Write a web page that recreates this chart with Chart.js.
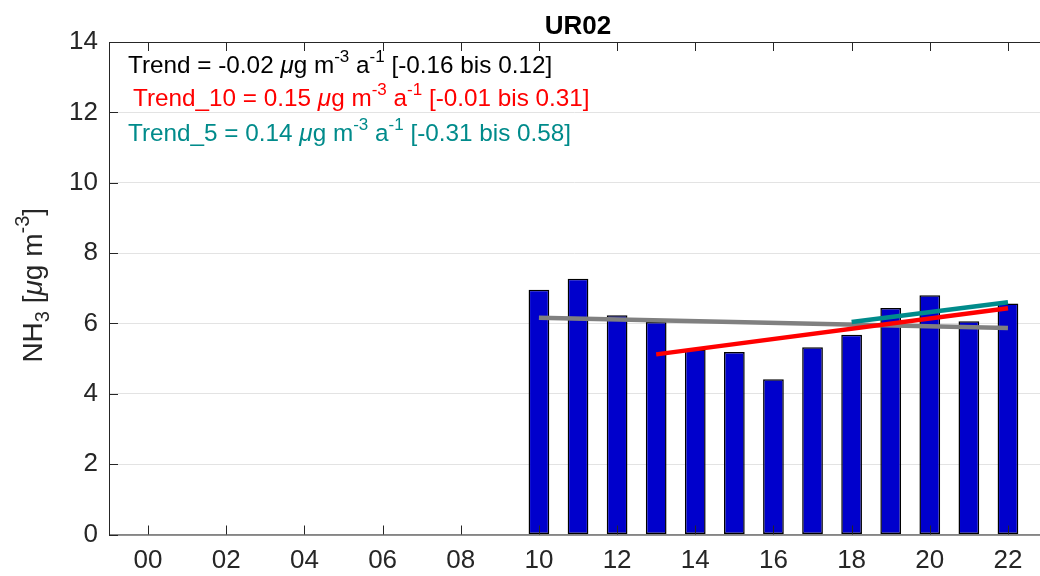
<!DOCTYPE html>
<html>
<head>
<meta charset="utf-8">
<script src="https://cdn.jsdelivr.net/npm/chart.js@4.4.0/dist/chart.umd.min.js"></script>
<style>
  body { margin: 0; background: #fff; }
  #box { width: 1040px; height: 576px; }
</style>
</head>
<body>
<div id="box"><canvas id="nh3Chart"></canvas></div>
<script>
// Jahresmittel NH3, Station UR02
const years = [10, 11, 12, 13, 14, 15, 16, 17, 18, 19, 20, 21, 22];
const nh3 = [6.96, 7.27, 6.23, 6.04, 5.26, 5.19, 4.41, 5.32, 5.68, 6.44, 6.80, 6.06, 6.57];

// Trendlinien (Anfang / Ende)
const trendYears = [10, 22];
const trendValues = [6.16, 5.87];
const trend10Years = [13, 22];
const trend10Values = [5.12, 6.43];
const trend5Years = [18, 22];
const trend5Values = [6.04, 6.60];

const xTicks = [0, 2, 4, 6, 8, 10, 12, 14, 16, 18, 20, 22];
const yTicks = [0, 2, 4, 6, 8, 10, 12, 14];

const titleText = 'UR02';
const infoLines = [
    { color: '#000000', segs: [['Trend = -0.02 '], ['\u03bc', 'i'], ['g m'], ['-3', 'sup'], [' a'], ['-1', 'sup'], [' [-0.16 bis 0.12]']] },
    { color: '#ff0000', segs: [['Trend_10 = 0.15 '], ['\u03bc', 'i'], ['g m'], ['-3', 'sup'], [' a'], ['-1', 'sup'], [' [-0.01 bis 0.31]']] },
    { color: '#008b8b', segs: [['Trend_5 = 0.14 '], ['\u03bc', 'i'], ['g m'], ['-3', 'sup'], [' a'], ['-1', 'sup'], [' [-0.31 bis 0.58]']] }
];
const yTitleSegs = [['NH'], ['3', 'sub'], [' ['], ['\u03bc', 'i'], ['g m'], ['-3', 'sup'], [']']];

const FONT = '"Liberation Sans", Arial, Helvetica, sans-serif';
const AXIS_COLOR = '#262626';

function pairs(xs, ys) {
    return xs.map((x, i) => ({ x: x, y: ys[i] }));
}

// Text mit Hoch-/Tiefstellung zeichnen
function segFont(kind, size) {
    if (kind === 'sup' || kind === 'sub') return Math.round(size * 0.7) + 'px ' + FONT;
    if (kind === 'i') return 'italic ' + size + 'px ' + FONT;
    return size + 'px ' + FONT;
}
function richWidth(ctx, segs, size) {
    let w = 0;
    segs.forEach(s => { ctx.font = segFont(s[1], size); w += ctx.measureText(s[0]).width; });
    return w;
}
function drawRich(ctx, segs, x, y, size, color) {
    ctx.fillStyle = color;
    ctx.textBaseline = 'alphabetic';
    ctx.textAlign = 'left';
    segs.forEach(s => {
        ctx.font = segFont(s[1], size);
        let dy = 0;
        if (s[1] === 'sup') dy = -size * 0.45;
        if (s[1] === 'sub') dy = size * 0.25;
        ctx.fillText(s[0], x, y + dy);
        x += ctx.measureText(s[0]).width;
    });
}

const framePlugin = {
    id: 'matlabFrame',
    afterDraw(chart) {
        const ctx = chart.ctx;
        const area = chart.chartArea;
        const xs = chart.scales.x;
        const ys = chart.scales.y;
        ctx.save();

        // Rahmen
        ctx.strokeStyle = AXIS_COLOR;
        ctx.lineWidth = 1;
        ctx.strokeRect(area.left + 0.5, area.top + 0.5, area.right + 20 - area.left, area.bottom - area.top);

        // Ticks nach innen
        ctx.beginPath();
        xTicks.forEach(v => {
            const px = Math.round(xs.getPixelForValue(v)) + 0.5;
            ctx.moveTo(px, area.bottom); ctx.lineTo(px, area.bottom - 9);
            ctx.moveTo(px, area.top); ctx.lineTo(px, area.top + 9);
        });
        yTicks.forEach(v => {
            const py = Math.round(ys.getPixelForValue(v)) + 0.5;
            ctx.moveTo(area.left, py); ctx.lineTo(area.left + 9, py);
        });
        ctx.stroke();

        // Titel
        ctx.font = 'bold 26px ' + FONT;
        ctx.fillStyle = '#000';
        ctx.textAlign = 'center';
        ctx.textBaseline = 'alphabetic';
        ctx.fillText(titleText, 578, 34);

        // Trend-Texte
        drawRich(ctx, infoLines[0].segs, area.left + 19, area.top + 31, 24.3, infoLines[0].color);
        drawRich(ctx, infoLines[1].segs, area.left + 24, area.top + 64, 24.3, infoLines[1].color);
        drawRich(ctx, infoLines[2].segs, area.left + 19, area.top + 99, 24.3, infoLines[2].color);

        // y-Achsentitel
        const w = richWidth(ctx, yTitleSegs, 28);
        ctx.translate(42, (area.top + area.bottom) / 2 - 3);
        ctx.rotate(-Math.PI / 2);
        drawRich(ctx, yTitleSegs, -w / 2, 0, 28, AXIS_COLOR);
        ctx.restore();
    }
};

const ctx = document.getElementById('nh3Chart');
new Chart(ctx, {
    data: {
        datasets: [
            {
                type: 'line',
                data: pairs(trendYears, trendValues),
                borderColor: '#808080',
                borderWidth: 4.5,
                pointRadius: 0,
                fill: false,
                order: 1
            },
            {
                type: 'line',
                data: pairs(trend10Years, trend10Values),
                borderColor: '#ff0000',
                borderWidth: 4.5,
                pointRadius: 0,
                fill: false,
                order: 0
            },
            {
                type: 'line',
                data: pairs(trend5Years, trend5Values),
                borderColor: '#008b8b',
                borderWidth: 4.5,
                pointRadius: 0,
                fill: false,
                order: 0
            },
            {
                type: 'bar',
                data: pairs(years, nh3),
                backgroundColor: '#0000cc',
                borderColor: '#000000',
                borderWidth: 1.5,
                borderSkipped: false,
                barPercentage: 0.53,
                categoryPercentage: 1,
                order: 5
            }
        ]
    },
    options: {
        responsive: true,
        maintainAspectRatio: false,
        animation: false,
        layout: { padding: { top: 42, right: 0, left: 0, bottom: 0 } },
        plugins: {
            legend: { display: false },
            tooltip: { enabled: false },
            title: { display: false }
        },
        scales: {
            x: {
                type: 'linear',
                offset: false,
                min: -1,
                max: 22.82,
                afterBuildTicks: scale => { scale.ticks = xTicks.map(v => ({ value: v })); },
                afterFit: scale => { scale.height = 41.5; },
                grid: { display: false, offset: false },
                border: { display: false },
                ticks: {
                    autoSkip: false,
                    maxRotation: 0,
                    padding: 3,
                    color: AXIS_COLOR,
                    font: { family: FONT, size: 26 },
                    callback: v => String(v).padStart(2, '0')
                }
            },
            y: {
                min: 0,
                max: 14,
                afterBuildTicks: scale => { scale.ticks = yTicks.map(v => ({ value: v })); },
                afterFit: scale => { scale.width = 109; },
                grid: { color: '#e3e3e3', drawTicks: false },
                border: { display: false },
                ticks: {
                    padding: 11,
                    color: AXIS_COLOR,
                    font: { family: FONT, size: 26 }
                }
            }
        }
    },
    plugins: [framePlugin]
});
</script>
</body>
</html>
